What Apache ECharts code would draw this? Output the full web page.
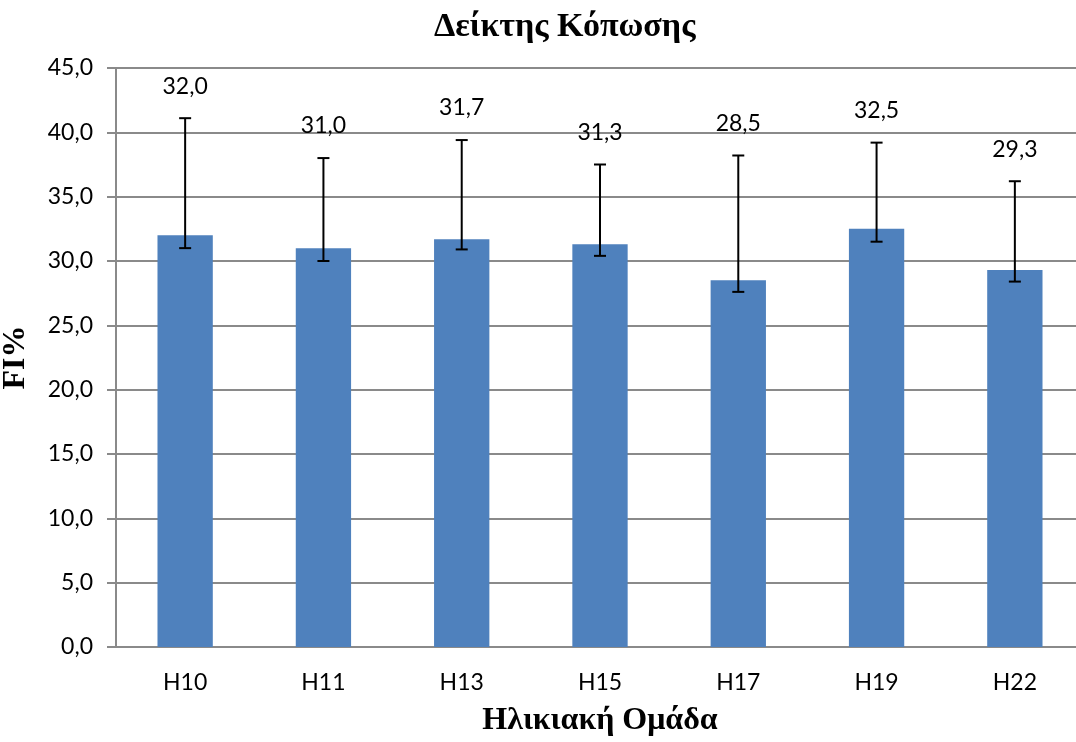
<!DOCTYPE html>
<html>
<head>
<meta charset="utf-8">
<script src="https://cdn.jsdelivr.net/npm/echarts@6/dist/echarts.min.js"></script>
<style>
  html, body { margin: 0; padding: 0; background: #fff; }
  #chart { width: 1076px; height: 742px; }
</style>
</head>
<body>
<div id="chart"></div>
<script>
// age groups and fatigue index values
const categories = ['H10', 'H11', 'H13', 'H15', 'H17', 'H19', 'H22'];
const fiValues = [32.0, 31.0, 31.7, 31.3, 28.5, 32.5, 29.3];
// error bar ends as drawn in the picture
const errLow = [31.0, 30.0, 30.9, 30.4, 27.6, 31.5, 28.4];
const errHigh = [41.1, 38.0, 39.4, 37.5, 38.2, 39.2, 36.2];
const yTicks = { min: 0, max: 45, interval: 5 };

const fmt = v => v.toFixed(1).replace('.', ',');
const chart = echarts.init(document.getElementById('chart'));

const serifBold = {
  fontFamily: 'Liberation Serif',
  fontWeight: 'bold',
  fontSize: 32,
  color: '#000'
};

const option = {
  animation: false,
  backgroundColor: '#ffffff',
  title: {
    text: 'Δείκτης Κόπωσης',
    left: 429,
    top: 5,
    textStyle: Object.assign({}, serifBold, { fontSize: 34 })
  },
  // plot area runs past the right edge, as in the cropped original
  grid: { left: 116, top: 68, width: 968, height: 579, outerBoundsMode: 'none' },
  xAxis: {
    type: 'category',
    data: categories,
    name: 'Ηλικιακή Ομάδα',
    nameLocation: 'middle',
    nameGap: 58,
    nameTextStyle: serifBold,
    axisLine: { lineStyle: { color: '#8a8a8a', width: 2 } },
    axisTick: { show: false },
    axisLabel: { color: '#000', fontFamily: 'Lato', fontSize: 23, margin: 24 }
  },
  yAxis: {
    type: 'value',
    min: yTicks.min,
    max: yTicks.max,
    interval: yTicks.interval,
    name: 'FI%',
    nameLocation: 'middle',
    nameGap: 84,
    nameTextStyle: serifBold,
    axisLine: { show: true, lineStyle: { color: '#8a8a8a', width: 2 } },
    axisTick: { show: true, length: 9, lineStyle: { color: '#8a8a8a', width: 2 } },
    axisLabel: { color: '#000', fontFamily: 'Lato', fontSize: 23, margin: 23, formatter: fmt },
    splitLine: { lineStyle: { color: '#8a8a8a', width: 2 } }
  },
  series: [
    {
      type: 'bar',
      data: fiValues,
      barWidth: '40%',
      itemStyle: { color: '#4f81bd' }
    },
    {
      type: 'custom',
      data: categories.map((c, i) => [i, errLow[i], errHigh[i], fiValues[i]]),
      z: 5,
      renderItem: (params, api) => {
        const lo = api.coord([api.value(0), api.value(1)]);
        const hi = api.coord([api.value(0), api.value(2)]);
        const x = lo[0];
        const cap = 6;
        const style = { stroke: '#000', lineWidth: 2 };
        return {
          type: 'group',
          children: [
            { type: 'line', shape: { x1: x, y1: lo[1], x2: x, y2: hi[1] }, style },
            { type: 'line', shape: { x1: x - cap, y1: lo[1], x2: x + cap, y2: lo[1] }, style },
            { type: 'line', shape: { x1: x - cap, y1: hi[1], x2: x + cap, y2: hi[1] }, style },
            {
              type: 'text',
              x: x,
              y: hi[1] - 32,
              style: {
                text: fmt(api.value(3)),
                fill: '#000',
                font: '23px Lato',
                align: 'center',
                verticalAlign: 'middle'
              }
            }
          ]
        };
      }
    }
  ]
};

chart.setOption(option);
</script>
</body>
</html>
